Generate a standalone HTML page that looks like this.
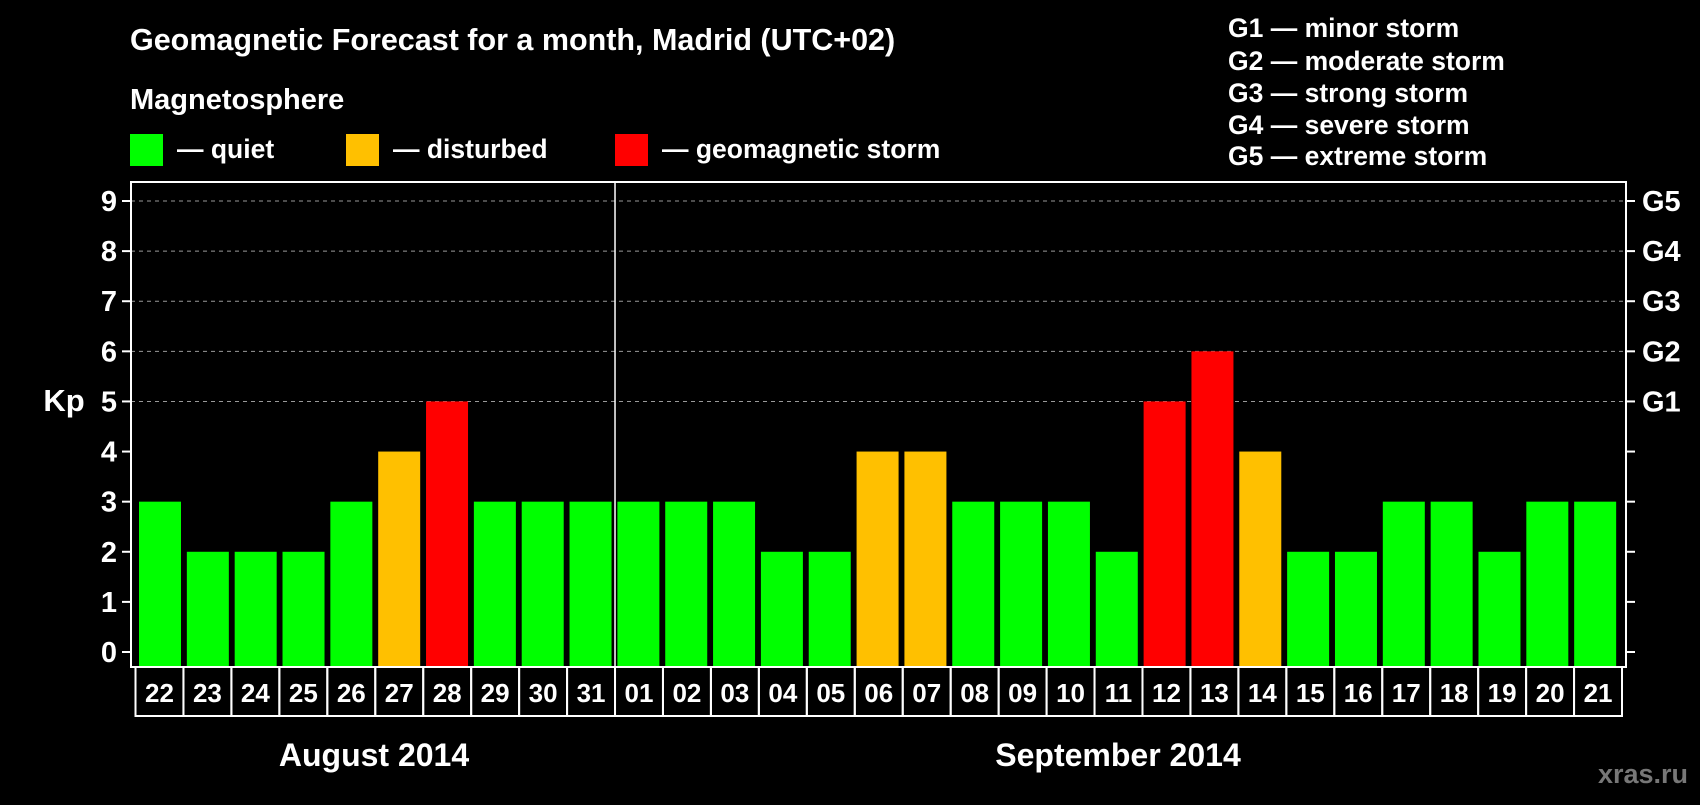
<!DOCTYPE html>
<html><head><meta charset="utf-8"><style>
body{margin:0;background:#000;width:1700px;height:800px;overflow:hidden}
svg text{font-family:"Liberation Sans",sans-serif;font-weight:bold;fill:#fff}
</style></head><body>
<svg id="chart" width="1700" height="800">
<text x="130" y="50" font-size="30.5">Geomagnetic Forecast for a month, Madrid (UTC+02)</text>
<text x="130" y="109" font-size="29">Magnetosphere</text>
<g><rect x="130" y="134" width="33" height="32" fill="#00ff00"/><text x="177" y="158" font-size="26.5">— quiet</text></g>
<g><rect x="346" y="134" width="33" height="32" fill="#ffc000"/><text x="393" y="158" font-size="26.5">— disturbed</text></g>
<g><rect x="615" y="134" width="33" height="32" fill="#ff0000"/><text x="662" y="158" font-size="26.5">— geomagnetic storm</text></g>
<g font-size="26.5">
<text x="1228" y="37">G1 — minor storm</text>
<text x="1228" y="70">G2 — moderate storm</text>
<text x="1228" y="102">G3 — strong storm</text>
<text x="1228" y="134">G4 — severe storm</text>
<text x="1228" y="165">G5 — extreme storm</text>
</g>
<text x="64" y="411" font-size="31" text-anchor="middle">Kp</text>
<g id="grid"></g><g id="bars"></g><g id="axes"></g>
<text x="374" y="766" font-size="32" text-anchor="middle">August 2014</text>
<text x="1118" y="766" font-size="32" text-anchor="middle">September 2014</text>
<text x="1688" y="783" font-size="27" text-anchor="end" style="fill:#777">xras.ru</text>
</svg>
<script>
const dates=["22","23","24","25","26","27","28","29","30","31","01","02","03","04","05","06","07","08","09","10","11","12","13","14","15","16","17","18","19","20","21"];
const kp=[3,2,2,2,3,4,5,3,3,3,3,3,3,2,2,4,4,3,3,3,2,5,6,4,2,2,3,3,2,3,3];
const yTicks=[0,1,2,3,4,5,6,7,8,9];
const gLabels=["","","","","","G1","G2","G3","G4","G5"];
const NS="http://www.w3.org/2000/svg";
const L=131,R=1626,T=182,B=667,y0=652,unit=(652-201)/9;
const cellL=135.5,cellW=(1622-135.5)/dates.length;
const y=v=>y0-v*unit;
function mk(t,a,p){const e=document.createElementNS(NS,t);for(const k in a)e.setAttribute(k,a[k]);p.appendChild(e);return e;}
const grid=document.getElementById('grid'),bars=document.getElementById('bars'),axes=document.getElementById('axes');
yTicks.forEach(v=>{
 if(v>=5){const g=mk('line',{x1:L,x2:R,y1:y(v),y2:y(v),stroke:'#999','stroke-dasharray':'4,4','stroke-width':1},grid);
 
 }
 mk('line',{x1:L-9,x2:L,y1:y(v),y2:y(v),stroke:'#fff','stroke-width':2},axes);
 mk('line',{x1:R,x2:R+9,y1:y(v),y2:y(v),stroke:'#fff','stroke-width':2},axes);
 const t=mk('text',{x:L-14,y:y(v)+10,'font-size':29,'text-anchor':'end'},axes);t.textContent=v;
 
 
 if(gLabels[v]){const g=mk('text',{x:R+16,y:y(v)+10,'font-size':29},axes);g.textContent=gLabels[v];
 
 }
});
const step=(1621-138)/kp.length,bw=42;
kp.forEach((v,i)=>{
 const c=v>=5?'#ff0000':v>=4?'#ffc000':'#00ff00';
 const r=mk('rect',{x:139+i*step,y:y(v),width:bw,height:B-y(v),fill:c},bars);
 
 
});
const fr=mk('rect',{x:L,y:T,width:R-L,height:B-T,fill:'none',stroke:'#fff','stroke-width':2},axes);


const sep=mk('line',{x1:cellL+10*cellW,x2:cellL+10*cellW,y1:T,y2:B,stroke:'#fff','stroke-width':1.5},axes);


dates.forEach((d,i)=>{
 const c=mk('rect',{x:cellL+i*cellW,y:B,width:cellW,height:49,fill:'none',stroke:'#fff','stroke-width':2},axes);
 
 
 const t=mk('text',{x:cellL+i*cellW+cellW/2,y:B+35,'font-size':26,'text-anchor':'middle'},axes);t.textContent=d;
 
 
});
</script>
</body></html>
